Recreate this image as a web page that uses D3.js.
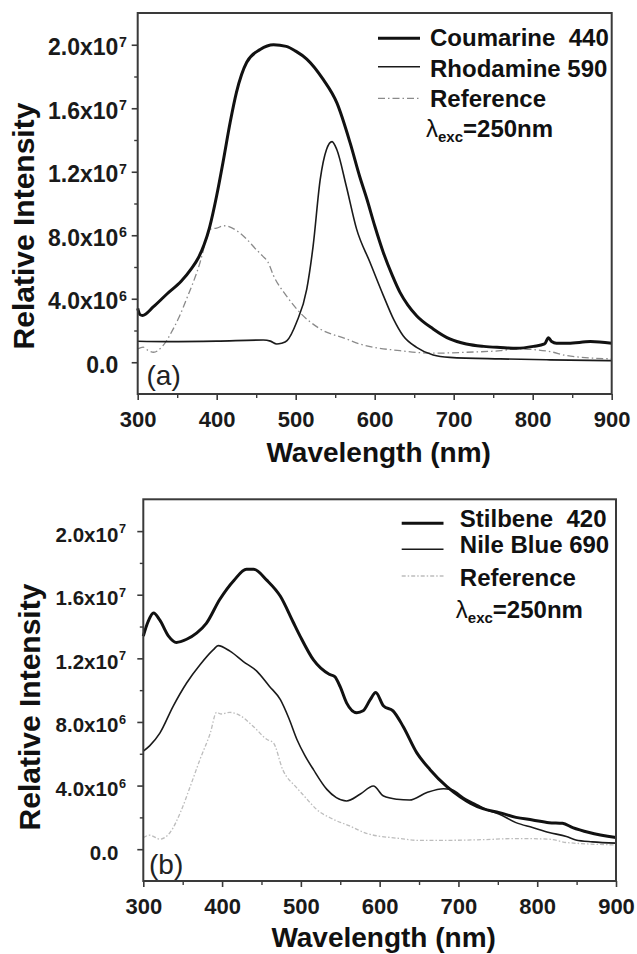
<!DOCTYPE html>
<html>
<head>
<meta charset="utf-8">
<script src="https://cdn.jsdelivr.net/npm/d3@7"></script>
<style>
  html, body { margin: 0; padding: 0; background: #fff; }
  svg { display: block; font-family: "Liberation Sans", Arial, Helvetica, sans-serif; }
  text { white-space: pre; }
</style>
</head>
<body>
<svg id="chart" width="637" height="954"></svg>
<script>
// ---- Emission spectra, [wavelength (nm), relative intensity] ----
const coumarine440 = [
  [300, 3.4e6], [303, 3.0e6], [306, 2.95e6], [320, 3.5e6], [337, 4.3e6], [355, 5.1e6],
  [368, 5.9e6], [377, 6.6e6], [384, 7.4e6], [391, 8.5e6], [400, 10.5e6], [408, 12.6e6],
  [417, 15.1e6], [425, 17.0e6], [438, 18.9e6], [455, 19.7e6], [472, 20.0e6], [488, 19.9e6],
  [500, 19.6e6], [514, 19.1e6], [535, 17.8e6], [552, 16.35e6], [569, 13.8e6], [581, 11.7e6],
  [590, 10.3e6], [600, 8.6e6], [611, 6.9e6], [622, 5.5e6], [632, 4.4e6], [642, 3.6e6],
  [653, 2.93e6], [674, 2.1e6], [695, 1.47e6], [716, 1.15e6], [738, 1.0e6], [759, 0.93e6],
  [780, 0.88e6], [801, 1.0e6], [815, 1.15e6], [820, 1.55e6], [824, 1.3e6], [830, 1.2e6],
  [845, 1.2e6], [873, 1.3e6], [900, 1.2e6]
];
const rhodamine590 = [
  [300, 1.32e6], [337, 1.3e6], [400, 1.33e6], [459, 1.4e6], [468, 1.33e6], [476, 1.15e6],
  [482, 1.2e6], [489, 1.36e6], [501, 2.5e6], [514, 4.6e6], [522, 7.3e6], [531, 11.5e6],
  [539, 13.4e6], [546, 13.9e6], [552, 13.4e6], [564, 11.1e6], [577, 8.4e6], [594, 6.3e6],
  [611, 4.2e6], [624, 2.7e6], [636, 1.67e6], [653, 0.94e6], [674, 0.46e6], [695, 0.31e6],
  [759, 0.21e6], [822, 0.15e6], [900, 0.1e6]
];
const referenceA = [
  [300, 0.84e6], [307, 0.95e6], [313, 0.75e6], [320, 0.63e6], [332, 1.05e6], [345, 2.1e6],
  [352, 2.8e6], [362, 4.0e6], [379, 6.3e6], [387, 7.75e6], [393, 8.4e6], [400, 8.45e6],
  [409, 8.6e6], [425, 8.3e6], [438, 7.75e6], [450, 7.1e6], [458, 6.7e6], [465, 6.3e6],
  [472, 5.45e6], [488, 4.2e6], [505, 3.15e6], [531, 2.1e6], [564, 1.47e6], [581, 1.15e6],
  [632, 0.73e6], [674, 0.57e6], [716, 0.63e6], [759, 0.73e6], [780, 0.84e6], [822, 0.67e6],
  [843, 0.42e6], [900, 0.21e6]
];
const stilbene420 = [
  [300, 13.4e6], [306, 14.3e6], [313, 14.85e6], [321, 14.4e6], [332, 13.4e6], [342, 13.0e6],
  [355, 13.2e6], [368, 13.6e6], [380, 14.2e6], [397, 15.7e6], [415, 16.9e6], [431, 17.6e6],
  [440, 17.6e6], [457, 16.9e6], [474, 15.9e6], [490, 14.3e6], [499, 13.4e6], [516, 11.9e6],
  [536, 11.0e6], [543, 10.85e6], [550, 10.2e6], [558, 9.2e6], [571, 8.58e6], [579, 8.7e6],
  [588, 9.4e6], [595, 9.85e6], [605, 9.0e6], [617, 8.7e6], [630, 7.7e6], [647, 6.07e6],
  [664, 5.0e6], [685, 3.95e6], [702, 3.3e6], [715, 2.9e6], [731, 2.55e6], [752, 2.3e6],
  [773, 2.0e6], [794, 1.84e6], [815, 1.67e6], [832, 1.63e6], [845, 1.36e6], [866, 1.05e6],
  [900, 0.73e6]
];
const nileBlue690 = [
  [300, 6.17e6], [308, 6.5e6], [321, 7.3e6], [338, 9.0e6], [355, 10.45e6], [372, 11.6e6],
  [389, 12.55e6], [395, 12.8e6], [410, 12.45e6], [427, 11.8e6], [444, 11.2e6], [460, 10.25e6],
  [474, 9.4e6], [485, 8.2e6], [495, 6.9e6], [505, 5.9e6], [516, 5.0e6], [533, 3.76e6],
  [545, 3.24e6], [558, 3.03e6], [575, 3.45e6], [592, 3.97e6], [605, 3.34e6], [622, 3.14e6],
  [638, 3.09e6], [660, 3.56e6], [681, 3.8e6], [690, 3.76e6], [710, 3.14e6], [723, 2.82e6],
  [735, 2.5e6], [752, 2.2e6], [773, 1.67e6], [794, 1.36e6], [815, 1.05e6], [837, 0.8e6],
  [849, 0.58e6], [870, 0.46e6], [900, 0.38e6]
];
const referenceB = [
  [300, 0.73e6], [308, 0.88e6], [321, 0.63e6], [334, 1.05e6], [347, 2.3e6], [360, 4.0e6],
  [372, 5.65e6], [385, 7.3e6], [393, 8.6e6], [399, 8.5e6], [410, 8.6e6], [423, 8.4e6],
  [440, 7.7e6], [457, 6.9e6], [465, 6.7e6], [477, 5.0e6], [494, 3.9e6], [505, 3.3e6],
  [520, 2.5e6], [541, 1.88e6], [562, 1.46e6], [583, 1.0e6], [626, 0.67e6], [647, 0.56e6],
  [689, 0.56e6], [731, 0.6e6], [773, 0.67e6], [815, 0.63e6], [837, 0.42e6], [900, 0.27e6]
];

// ---- Axes, ticks and labels ----
const wavelengthDomain = [300, 900];
const intensityDomain = [-2e6, 22e6];
const wavelengthTicks = [300, 400, 500, 600, 700, 800, 900];
const wavelengthMinorTicks = [350, 450, 550, 650, 750, 850];
const intensityTicks = [0, 4e6, 8e6, 12e6, 16e6, 20e6];
const intensityMinorTicks = [2e6, 6e6, 10e6, 14e6, 18e6];
const intensityTickMantissas = ["0.0", "4.0", "8.0", "1.2", "1.6", "2.0"];
const intensityTickExponents = ["", "6", "6", "7", "7", "7"];
const xAxisTitle = "Wavelength (nm)";
const yAxisTitle = "Relative Intensity";
const panelLabels = ["(a)", "(b)"];
const legendNamesA = ["Coumarine  440", "Rhodamine 590", "Reference"];
const legendNamesB = ["Stilbene  420", "Nile Blue 690", "Reference"];
const excitationLabel = { symbol: "\u03bb", sub: "exc", rest: "=250nm" };

// ---- Layout of the two stacked panels ----
const fontFamily = '"Liberation Sans", Arial, Helvetica, sans-serif';
const panels = [
  {
    series: [coumarine440, rhodamine590, referenceA], names: legendNamesA, label: panelLabels[0],
    box: { l: 137.7, r: 611.7, t: 13, b: 394 },
    yTick: { size: 23, gap: 19.4 },
    legend: { x0: 378, x1: 420, tx: 430, rows: [45.7, 76.7, 107.3], lines: [38.3, 66.7, 98.3], lam: 136.7 },
    refStyle: { color: "#8a8a8a", dash: "7,3,1.5,3", width: 1.3 },
    yTitle: { x: 33.7, y: 226 }, xTitleY: 461.5, labelPos: [146.5, 385]
  },
  {
    series: [stilbene420, nileBlue690, referenceB], names: legendNamesB, label: panelLabels[1],
    box: { l: 143.3, r: 616, t: 499.3, b: 881 },
    yTick: { size: 20.5, gap: 25 },
    legend: { x0: 401.7, x1: 443.5, tx: 459.8, rows: [527.3, 553.3, 586], lines: [523.3, 549.3, 576], lam: 618 },
    refStyle: { color: "#bdbdbd", dash: "4,2,1.5,2", width: 1.3 },
    yTitle: { x: 39.5, y: 707 }, xTitleY: 947, labelPos: [149, 874]
  }
];

const svg = d3.select("#chart");
const frameColor = "#3a3a3a";

// d3 axes put their own font and anchor on the group; reset them
function plainAxis(sel) {
  sel.attr("font-family", fontFamily).attr("font-size", null).attr("text-anchor", null);
  sel.select(".domain").remove();
  return sel;
}

panels.forEach(p => {
  const x = d3.scaleLinear().domain(wavelengthDomain).range([p.box.l, p.box.r]);
  const y = d3.scaleLinear().domain(intensityDomain).range([p.box.b, p.box.t]);
  const g = svg.append("g");

  const styles = [
    { color: "#111", width: 3, dash: null },
    { color: "#1a1a1a", width: 1.6, dash: null },
    { color: p.refStyle.color, width: p.refStyle.width, dash: p.refStyle.dash }
  ];

  // x axis: major ticks with labels, minor ticks without
  const xAxis = plainAxis(g.append("g").attr("transform", `translate(0,${p.box.b})`)
    .call(d3.axisBottom(x).tickValues(wavelengthTicks).tickSize(6).tickFormat(d3.format("d"))));
  xAxis.selectAll("line").attr("stroke", frameColor).attr("stroke-width", 1.6);
  xAxis.selectAll("text").attr("font-size", 22).attr("font-weight", "bold").attr("fill", "#1a1a1a")
    .attr("text-anchor", "middle").attr("dy", null).attr("y", 32.5);
  const xMinor = plainAxis(g.append("g").attr("transform", `translate(0,${p.box.b})`)
    .call(d3.axisBottom(x).tickValues(wavelengthMinorTicks).tickSize(4).tickFormat("")));
  xMinor.selectAll("line").attr("stroke", frameColor).attr("stroke-width", 1.4);

  // y axis: major ticks, mantissa + superscript exponent labels
  const yAxis = plainAxis(g.append("g").attr("transform", `translate(${p.box.l},0)`)
    .call(d3.axisLeft(y).tickValues(intensityTicks).tickSize(6).tickFormat("")));
  yAxis.selectAll("line").attr("stroke", frameColor).attr("stroke-width", 1.6);
  yAxis.selectAll(".tick text").remove();
  yAxis.selectAll(".tick").each(function (d, i) {
    const t = d3.select(this);
    t.append("text").attr("x", -p.yTick.gap).attr("y", 10)
      .attr("text-anchor", "end").attr("font-size", p.yTick.size).attr("font-weight", "bold")
      .attr("fill", "#1a1a1a").text(intensityTickMantissas[i] + (intensityTickExponents[i] ? "x10" : ""));
    if (intensityTickExponents[i]) {
      t.append("text").attr("x", -p.yTick.gap + 0.6).attr("y", 1.5)
        .attr("text-anchor", "start")
        .attr("font-size", p.yTick.size * 0.62).attr("font-weight", "bold")
        .attr("fill", "#1a1a1a").text(intensityTickExponents[i]);
    }
  });
  const yMinor = plainAxis(g.append("g").attr("transform", `translate(${p.box.l},0)`)
    .call(d3.axisLeft(y).tickValues(intensityMinorTicks).tickSize(3.5).tickFormat("")));
  yMinor.selectAll("line").attr("stroke", frameColor).attr("stroke-width", 1.4);

  // spectra
  const line = d3.line().x(d => x(d[0])).y(d => y(d[1])).curve(d3.curveMonotoneX);
  [2, 1, 0].forEach(k => {
    g.append("path").datum(p.series[k]).attr("d", line)
      .attr("fill", "none").attr("stroke", styles[k].color).attr("stroke-width", styles[k].width)
      .attr("stroke-linejoin", "round").attr("stroke-dasharray", styles[k].dash);
  });

  // frame
  g.append("rect").attr("x", p.box.l).attr("y", p.box.t)
    .attr("width", p.box.r - p.box.l).attr("height", p.box.b - p.box.t)
    .attr("fill", "none").attr("stroke", frameColor).attr("stroke-width", 2);

  // legend
  p.names.forEach((name, k) => {
    const ly = p.legend.lines[k];
    g.append("line").attr("x1", p.legend.x0).attr("x2", p.legend.x1)
      .attr("y1", ly).attr("y2", ly)
      .attr("stroke", styles[k].color).attr("stroke-width", styles[k].width)
      .attr("stroke-dasharray", styles[k].dash);
    g.append("text").attr("x", p.legend.tx).attr("y", p.legend.rows[k])
      .attr("font-size", 24).attr("font-weight", "bold").attr("fill", "#111").text(name);
  });
  const lam = g.append("text").attr("x", p.legend.tx - 4).attr("y", p.legend.lam).attr("fill", "#111");
  lam.append("tspan").attr("font-size", 24).text(excitationLabel.symbol);
  lam.append("tspan").attr("font-size", 15).attr("font-weight", "bold").attr("dy", 5).text(excitationLabel.sub);
  lam.append("tspan").attr("font-size", 24).attr("font-weight", "bold").attr("dy", -5).text(excitationLabel.rest);

  // panel label
  g.append("text").attr("x", p.labelPos[0]).attr("y", p.labelPos[1])
    .attr("font-size", 28).attr("fill", "#222").text(p.label);

  // axis titles
  g.append("text").attr("x", (p.box.l + p.box.r) / 2 + 4).attr("y", p.xTitleY)
    .attr("text-anchor", "middle").attr("font-size", 28).attr("font-weight", "bold").attr("fill", "#111")
    .text(xAxisTitle);
  g.append("text").attr("transform", `translate(${p.yTitle.x},${p.yTitle.y}) rotate(-90)`)
    .attr("text-anchor", "middle").attr("font-size", 30).attr("font-weight", "bold").attr("fill", "#111")
    .text(yAxisTitle);
});
</script>
</body>
</html>
